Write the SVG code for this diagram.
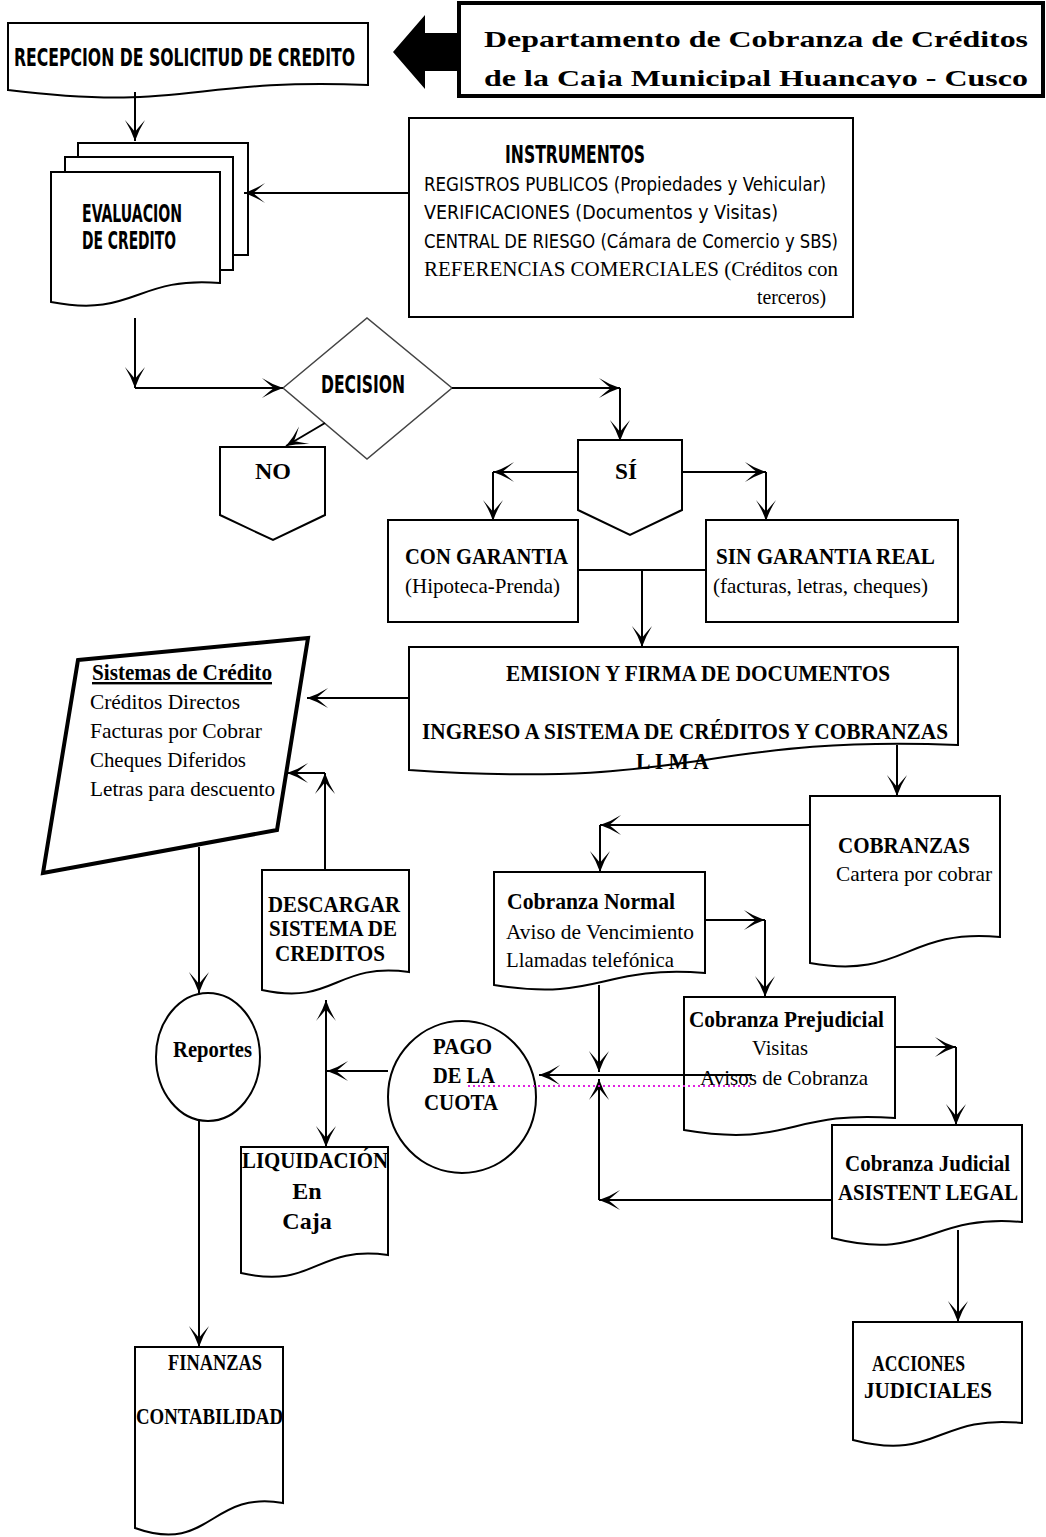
<svg xmlns="http://www.w3.org/2000/svg" width="1046" height="1537" viewBox="0 0 1046 1537">
<defs>
<style>
.box{fill:#fff;stroke:#000;stroke-width:2}
.conn path{fill:none;stroke:#000;stroke-width:2;marker-end:url(#ah)}
.conn path.plain{marker-end:none}
.tb{font-family:"Liberation Serif","Times New Roman",serif;font-weight:bold;font-size:24px}
.tr{font-family:"Liberation Serif","Times New Roman",serif;font-size:22px}
.nb{font-family:"Liberation Sans Narrow","DejaVu Sans Condensed","Liberation Sans",sans-serif;font-weight:bold;font-size:24px}
.nr{font-family:"Liberation Sans Narrow","DejaVu Sans Condensed","Liberation Sans",sans-serif;font-size:20px}
</style>
<marker id="ah" viewBox="0 0 24 24" markerUnits="userSpaceOnUse" markerWidth="22" markerHeight="22" refX="24" refY="12" orient="auto-start-reverse">
<path d="M24,12 Q12,8 1,1 Q10,9 14,12 Q10,15 1,23 Q12,16 24,12 Z" fill="#000"/>
</marker>
<clipPath id="hclip"><rect x="461" y="5" width="580" height="83"/></clipPath>
</defs>

<g id="header">
<rect x="459" y="3" width="584" height="93" fill="#fff" stroke="#000" stroke-width="4"/>
<g clip-path="url(#hclip)">
<text class="tb" x="484" y="47" font-size="30" textLength="544" lengthAdjust="spacingAndGlyphs">Departamento de Cobranza de Créditos</text>
<text class="tb" x="484" y="86" font-size="30" textLength="544" lengthAdjust="spacingAndGlyphs">de la Caja Municipal Huancayo - Cusco</text>
</g>
<polygon points="393,52 425,15 425,33 459,33 459,71 425,71 425,89" fill="#000"/>
</g>

<g id="recepcion">
<path class="box" d="M8,23 H368 V85 C188,78 188,112 8,90 Z"/>
<text class="nb" x="14" y="66" font-size="27" textLength="341" lengthAdjust="spacingAndGlyphs">RECEPCION DE SOLICITUD DE CREDITO</text>
</g>

<g id="evaluacion">
<rect class="box" x="78" y="143" width="170" height="112"/>
<rect class="box" x="65" y="157" width="168" height="113"/>
<path class="box" d="M51,172 H220 V283 C135,276 135,318 51,302 Z"/>
<text class="nb" x="82" y="222" font-size="23" textLength="100" lengthAdjust="spacingAndGlyphs">EVALUACION</text>
<text class="nb" x="82" y="249" font-size="23" textLength="94" lengthAdjust="spacingAndGlyphs">DE CREDITO</text>
</g>

<g id="instrumentos">
<rect class="box" x="409" y="118" width="444" height="199"/>
<text class="nb" x="505" y="163" font-size="23" textLength="140" lengthAdjust="spacingAndGlyphs">INSTRUMENTOS</text>
<text class="nr" x="424" y="191" textLength="402" lengthAdjust="spacingAndGlyphs">REGISTROS PUBLICOS (Propiedades y  Vehicular)</text>
<text class="nr" x="424" y="219" textLength="354" lengthAdjust="spacingAndGlyphs">VERIFICACIONES (Documentos y Visitas)</text>
<text class="nr" x="424" y="248" textLength="414" lengthAdjust="spacingAndGlyphs">CENTRAL DE RIESGO (Cámara de Comercio y SBS)</text>
<text class="tr" x="424" y="276" textLength="414" lengthAdjust="spacingAndGlyphs">REFERENCIAS COMERCIALES (Créditos con</text>
<text class="tr" x="757" y="304" textLength="69" lengthAdjust="spacingAndGlyphs">terceros)</text>
</g>

<g id="decision">
<path d="M283,388 L367,318 L452,388 L367,459 Z" fill="#fff" stroke="#444" stroke-width="1.5"/>
<text class="nb" x="321" y="393" font-size="23" textLength="84" lengthAdjust="spacingAndGlyphs">DECISION</text>
</g>

<g id="no">
<path class="box" d="M220,447 H325 V515 L273,540 L220,515 Z" stroke-width="1.5"/>
<text class="tb" x="273" y="479" text-anchor="middle" textLength="36" lengthAdjust="spacingAndGlyphs">NO</text>
</g>

<g id="si">
<path class="box" d="M578,440 H682 V510 L630,535 L578,510 Z" stroke-width="1.5"/>
<text class="tb" x="626" y="479" text-anchor="middle" textLength="22" lengthAdjust="spacingAndGlyphs">SÍ</text>
</g>

<g id="con-garantia">
<rect class="box" x="388" y="520" width="190" height="102"/>
<text class="tb" x="405" y="564" textLength="163" lengthAdjust="spacingAndGlyphs">CON GARANTIA</text>
<text class="tr" x="405" y="593" textLength="155" lengthAdjust="spacingAndGlyphs">(Hipoteca-Prenda)</text>
</g>

<g id="sin-garantia">
<rect class="box" x="706" y="520" width="252" height="102"/>
<text class="tb" x="716" y="564" textLength="219" lengthAdjust="spacingAndGlyphs">SIN GARANTIA REAL</text>
<text class="tr" x="713" y="593" textLength="215" lengthAdjust="spacingAndGlyphs">(facturas, letras, cheques)</text>
</g>

<g id="emision">
<path class="box" d="M409,647 H958 V745 C700,735 700,790 409,770 Z"/>
<text class="tb" x="506" y="681" textLength="384" lengthAdjust="spacingAndGlyphs">EMISION Y FIRMA DE DOCUMENTOS</text>
<text class="tb" x="422" y="739" textLength="526" lengthAdjust="spacingAndGlyphs">INGRESO A SISTEMA DE CRÉDITOS Y COBRANZAS</text>
<text class="tb" x="636" y="769" textLength="73" lengthAdjust="spacingAndGlyphs">L I M A</text>
</g>

<g id="sistemas">
<path d="M78,660 L308,638 L277,830 L43,873 Z" fill="#fff" stroke="#000" stroke-width="4" stroke-linejoin="miter"/>
<text class="tb" x="92" y="680" font-size="22" textLength="180" lengthAdjust="spacingAndGlyphs" text-decoration="underline">Sistemas de Crédito</text>
<text class="tr" x="90" y="709" textLength="150" lengthAdjust="spacingAndGlyphs">Créditos Directos</text>
<text class="tr" x="90" y="738" textLength="172" lengthAdjust="spacingAndGlyphs">Facturas por Cobrar</text>
<text class="tr" x="90" y="767" textLength="156" lengthAdjust="spacingAndGlyphs">Cheques Diferidos</text>
<text class="tr" x="90" y="796" textLength="185" lengthAdjust="spacingAndGlyphs">Letras para descuento</text>
</g>

<g id="descargar">
<path class="box" d="M262,870 H409 V972 C335,962 335,1006 262,990 Z"/>
<text class="tb" x="268" y="912" font-size="26" textLength="132" lengthAdjust="spacingAndGlyphs">DESCARGAR</text>
<text class="tb" x="269" y="936" font-size="25" textLength="128" lengthAdjust="spacingAndGlyphs">SISTEMA DE</text>
<text class="tb" x="275" y="961" font-size="25" textLength="110" lengthAdjust="spacingAndGlyphs">CREDITOS</text>
</g>

<g id="reportes">
<ellipse class="box" cx="208" cy="1057" rx="52" ry="64" stroke-width="1.5"/>
<text class="tb" x="173" y="1057" textLength="79" lengthAdjust="spacingAndGlyphs">Reportes</text>
</g>

<g id="pago">
<ellipse class="box" cx="462" cy="1097" rx="74" ry="76" stroke-width="1.5"/>
<text class="tb" x="433" y="1054" font-size="26" textLength="59" lengthAdjust="spacingAndGlyphs">PAGO</text>
<text class="tb" x="433" y="1083" font-size="26" textLength="62" lengthAdjust="spacingAndGlyphs">DE LA</text>
<text class="tb" x="424" y="1110" font-size="26" textLength="74" lengthAdjust="spacingAndGlyphs">CUOTA</text>
</g>

<g id="liquidacion">
<path class="box" d="M241,1147 H388 V1255 C315,1245 315,1290 241,1273 Z"/>
<text class="tb" x="242" y="1168" textLength="146" lengthAdjust="spacingAndGlyphs">LIQUIDACIÓN</text>
<text class="tb" x="307" y="1199" text-anchor="middle">En</text>
<text class="tb" x="307" y="1229" text-anchor="middle">Caja</text>
</g>

<g id="finanzas">
<path class="box" d="M135,1347 H283 V1503 C210,1490 210,1555 135,1528 Z"/>
<text class="tb" x="168" y="1370" font-size="22" textLength="94" lengthAdjust="spacingAndGlyphs">FINANZAS</text>
<text class="tb" x="136" y="1424" font-size="22" textLength="147" lengthAdjust="spacingAndGlyphs">CONTABILIDAD</text>
</g>

<g id="cobranzas">
<path class="box" d="M810,796 H1000 V937 C905,928 905,980 810,963 Z"/>
<text class="tb" x="838" y="853" textLength="132" lengthAdjust="spacingAndGlyphs">COBRANZAS</text>
<text class="tr" x="836" y="881" textLength="156" lengthAdjust="spacingAndGlyphs">Cartera por cobrar</text>
</g>

<g id="cobranza-normal">
<path class="box" d="M494,872 H705 V973 C600,965 600,1002 494,985 Z"/>
<text class="tb" x="507" y="909" font-size="23" textLength="168" lengthAdjust="spacingAndGlyphs">Cobranza Normal</text>
<text class="tr" x="506" y="939" textLength="188" lengthAdjust="spacingAndGlyphs">Aviso de Vencimiento</text>
<text class="tr" x="506" y="967" textLength="168" lengthAdjust="spacingAndGlyphs">Llamadas telefónica</text>
</g>

<g id="cobranza-prejudicial">
<path class="box" d="M684,997 H895 V1118 C790,1110 790,1148 684,1130 Z"/>
<text class="tb" x="689" y="1027" font-size="23" textLength="195" lengthAdjust="spacingAndGlyphs">Cobranza Prejudicial</text>
<text class="tr" x="752" y="1055" textLength="56" lengthAdjust="spacingAndGlyphs">Visitas</text>
<text class="tr" x="700" y="1085" textLength="168" lengthAdjust="spacingAndGlyphs">Avisos de Cobranza</text>
</g>

<g id="cobranza-judicial">
<path class="box" d="M832,1125 H1022 V1222 C927,1214 927,1262 832,1238 Z"/>
<text class="tb" x="845" y="1171" font-size="23" textLength="165" lengthAdjust="spacingAndGlyphs">Cobranza Judicial</text>
<text class="tb" x="838" y="1200" textLength="180" lengthAdjust="spacingAndGlyphs">ASISTENT LEGAL</text>
</g>

<g id="acciones">
<path class="box" d="M853,1322 H1022 V1423 C937,1414 937,1462 853,1440 Z"/>
<text class="tb" x="872" y="1371" font-size="22" textLength="93" lengthAdjust="spacingAndGlyphs">ACCIONES</text>
<text class="tb" x="864" y="1398" font-size="22" textLength="128" lengthAdjust="spacingAndGlyphs">JUDICIALES</text>
</g>

<g id="connectors" class="conn">
<path d="M135,92 V141"/>
<path d="M409,193 H244"/>
<path d="M135,318 V388"/>
<path d="M135,388 H283"/>
<path d="M452,388 H620"/>
<path d="M620,388 V441"/>
<path d="M325,423 L286,446"/>
<path d="M578,472 H493"/>
<path d="M493,472 V521"/>
<path d="M682,472 H766"/>
<path d="M766,472 V521"/>
<path class="plain" d="M578,570 H706"/>
<path d="M642,570 V647"/>
<path d="M409,698 H307"/>
<path d="M897,745 V796"/>
<path d="M810,825 H600"/>
<path d="M600,825 V872"/>
<path d="M705,920 H765"/>
<path d="M765,920 V997"/>
<path d="M895,1047 H956"/>
<path d="M956,1047 V1125"/>
<path d="M958,1230 V1322"/>
<path d="M832,1200 H599"/>
<path d="M599,1200 V1079"/>
<path d="M599,985 V1072"/>
<path d="M752,1075 H539"/>
<path d="M388,1071 H327"/>
<path d="M326,1147 V1000" style="marker-start:url(#ah)"/>
<path d="M325,870 V773"/>
<path d="M325,773 H287"/>
<path d="M199,847 V993"/>
<path d="M199,1121 V1347"/>
<path class="plain" d="M468,1086 H752" style="stroke:#e020e0;stroke-width:2;stroke-dasharray:2 3"/>
</g>
</svg>
